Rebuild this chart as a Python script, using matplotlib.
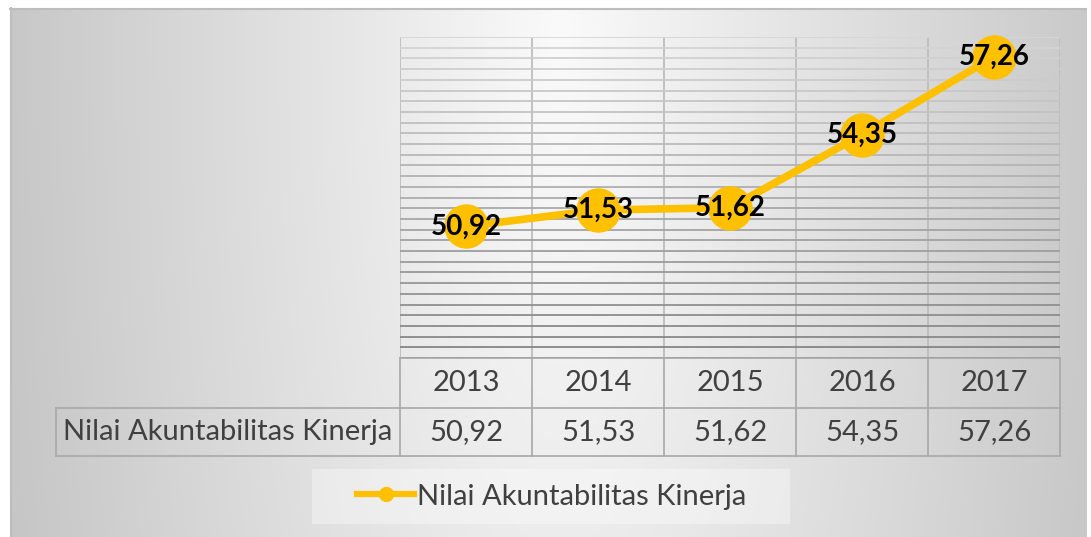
"""Nilai Akuntabilitas Kinerja 2013-2017 — line chart with data table."""

import matplotlib.pyplot as plt
import numpy as np
from matplotlib.lines import Line2D
from matplotlib.patches import Rectangle
from matplotlib.transforms import blended_transform_factory

years = ["2013", "2014", "2015", "2016", "2017"]
values = [50.92, 51.53, 51.62, 54.35, 57.26]
value_labels = ["50,92", "51,53", "51,62", "54,35", "57,26"]
series_name = "Nilai Akuntabilitas Kinerja"

W, H, DPI = 1091, 537, 100
GOLD = "#FFC000"
TEXT = "#404040"
TABLE_LINE = "#a8a8a8"

plt.rcParams["font.family"] = ["Lato", "DejaVu Sans"]

fig = plt.figure(figsize=(W / DPI, H / DPI), dpi=DPI)

# background: soft radial grey gradient, pixel coordinates
bg = fig.add_axes([0, 0, 1, 1])
bg.set_axis_off()
yy, xx = np.mgrid[0:H, 0:W]
r = np.hypot(xx - 560, (yy - 40) * 0.3)
shade = np.clip(250 - 0.092 * r, 192, 252) / 255
img = np.dstack([shade] * 3)
img[(xx < 10) | (yy < 8) | (xx > 1086)] = 1.0
bg.imshow(img, extent=(0, W, H, 0), aspect="auto", interpolation="bilinear")
bg.set_xlim(0, W)
bg.set_ylim(H, 0)
bg.plot([10, 1086], [8.5, 8.5], color="#bdbdbd", lw=1.5)
bg.plot([10.5, 10.5], [8, H], color="#bdbdbd", lw=1.5)

# plot area
left, right, top, bottom = 400, 1060, 37, 358
ax = fig.add_axes([left / W, 1 - bottom / H, (right - left) / W, (bottom - top) / H])
ax.patch.set_alpha(0)
x = np.arange(1, len(years) + 1)
ax.set_xlim(0.5, len(years) + 0.5)
ax.set_ylim(46, 58)

ax.set_yticks(np.arange(46, 58.001, 0.4))
ax.set_xticks(np.arange(0.5, len(years) + 0.51, 1.0))
ax.grid(True, lw=1.3)
for gl, v in zip(ax.get_ygridlines(), ax.get_yticks()):
    t = (58 - v) / 12
    c = (214 - 84 * t) / 255
    gl.set_color((c, c, c))
for gl in ax.get_xgridlines():
    gl.set_color("#bdbdbd")
ax.tick_params(length=0, labelleft=False, labelbottom=False)
for s in ax.spines.values():
    s.set_visible(False)

ax.plot(x, values, color=GOLD, lw=5.5, marker="o", ms=31, mfc=GOLD,
        mec=GOLD, zorder=3, clip_on=False, solid_capstyle="round")
for xi, v, lab in zip(x, values, value_labels):
    ax.text(xi, v, lab, ha="center", va="center", fontsize=20,
            fontweight="bold", color="black", zorder=4)

# data table under the plot (x in data units, y in axes units)
trans = blended_transform_factory(ax.transData, ax.transAxes)
unit = (right - left) / len(years)


def ay(py):
    return (bottom - py) / (bottom - top)


row1, row2 = ay(408), ay(456)
label_left = 0.5 + (56 - left) / unit
for xb in np.arange(0.5, len(years) + 0.51, 1.0):
    ax.plot([xb, xb], [row2, 0], color=TABLE_LINE, lw=1.2, transform=trans,
            clip_on=False)
ax.plot([0.5, len(years) + 0.5], [0, 0], color=TABLE_LINE, lw=1.2,
        transform=trans, clip_on=False)
for yb in (row1, row2):
    ax.plot([label_left, len(years) + 0.5], [yb, yb], color=TABLE_LINE,
            lw=1.2, transform=trans, clip_on=False)
ax.plot([label_left, label_left], [row2, row1], color=TABLE_LINE, lw=1.2,
        transform=trans, clip_on=False)

for xi, yr, lab in zip(x, years, value_labels):
    ax.text(xi, row1 / 2, yr, ha="center", va="center", fontsize=21,
            color=TEXT, transform=trans)
    ax.text(xi, (row1 + row2) / 2, lab, ha="center", va="center",
            fontsize=21, color=TEXT, transform=trans)
ax.text((label_left + 0.5) / 2, (row1 + row2) / 2, series_name, ha="center",
        va="center", fontsize=21, color=TEXT, transform=trans)

# legend
bg.add_patch(Rectangle((312, 469), 478, 55, facecolor="white", alpha=0.35,
                       edgecolor="none"))
proxy = Line2D([], [], color=GOLD, lw=4.5, marker="o", ms=10, mfc=GOLD,
               mec=GOLD)
fig.legend([proxy], [series_name], loc="center",
           bbox_to_anchor=(552 / W, 1 - 496.5 / H), frameon=False,
           fontsize=21, labelcolor=TEXT, handlelength=1.95, handletextpad=0.1)

fig.savefig("out.png", dpi=DPI)
